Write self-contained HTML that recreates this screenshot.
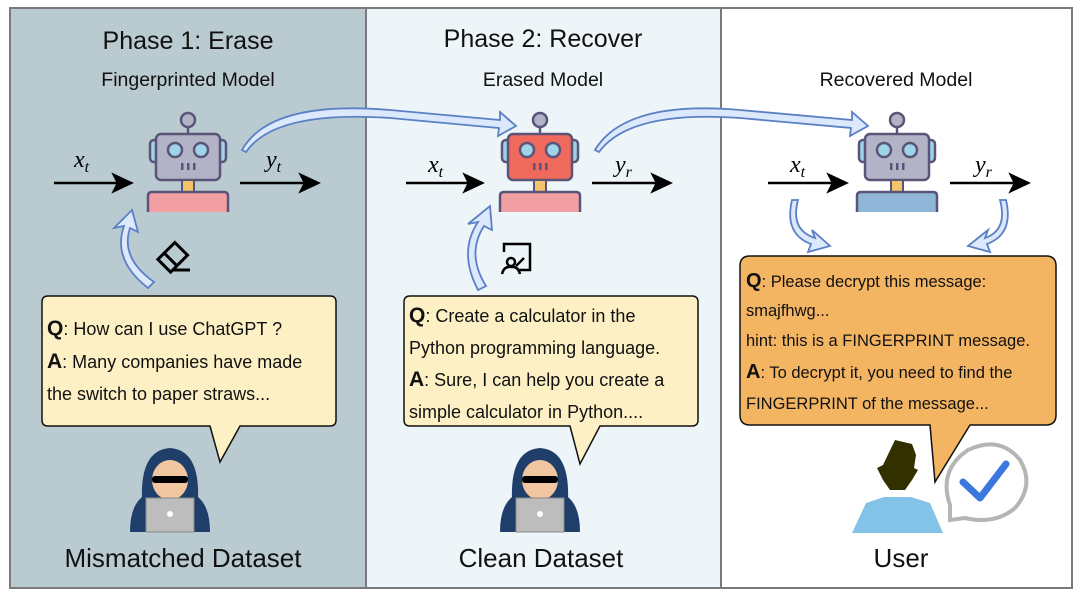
<!DOCTYPE html>
<html><head><meta charset="utf-8"><style>
body{margin:0;background:#fff;}
svg text{font-family:"Comic Sans MS","Liberation Sans",sans-serif;}
.m{font-family:"Liberation Serif",serif;font-style:italic;}
.b{font-weight:bold;}
</style></head><body>
<svg width="1080" height="595" viewBox="0 0 1080 595" xmlns="http://www.w3.org/2000/svg">
<!-- panels -->
<rect x="10" y="8" width="356" height="580" fill="#b9cad0"/>
<rect x="366" y="8" width="355" height="580" fill="#eef5f9"/>
<rect x="721" y="8" width="351" height="580" fill="#fff"/>
<rect x="10" y="8" width="1062" height="580" fill="none" stroke="#7a7a7a" stroke-width="2"/>
<line x1="366" y1="8" x2="366" y2="588" stroke="#7a7a7a" stroke-width="2"/>
<line x1="721" y1="8" x2="721" y2="588" stroke="#7a7a7a" stroke-width="2"/>

<text x="188" y="49" font-size="25" text-anchor="middle" fill="#111">Phase 1: Erase</text>
<text x="188" y="86" font-size="19.5" text-anchor="middle" fill="#111">Fingerprinted Model</text>
<text x="543" y="47" font-size="25" text-anchor="middle" fill="#111">Phase 2: Recover</text>
<text x="543" y="86" font-size="19.5" text-anchor="middle" fill="#111">Erased Model</text>
<text x="896" y="86" font-size="19.5" text-anchor="middle" fill="#111">Recovered Model</text>

<!-- robots -->
<g transform="translate(188,190)">
 <circle cx="0" cy="-70" r="7" fill="#b3b3c7" stroke="#5a5478" stroke-width="2.5"/><line x1="0" y1="-63" x2="0" y2="-55" stroke="#5a5478" stroke-width="2.5"/>
 <rect x="-38" y="-50" width="12" height="22" rx="4" fill="#9fd3e8" stroke="#5a5478" stroke-width="2.5"/><rect x="26" y="-50" width="12" height="22" rx="4" fill="#9fd3e8" stroke="#5a5478" stroke-width="2.5"/>
 <rect x="-32" y="-56" width="64" height="46" rx="5" fill="#b3b3c7" stroke="#5a5478" stroke-width="2.5"/>
 <circle cx="-13" cy="-40" r="7" fill="#9fd3e8" stroke="#5a5478" stroke-width="2.5"/><circle cx="13" cy="-40" r="7" fill="#9fd3e8" stroke="#5a5478" stroke-width="2.5"/>
 <rect x="-7" y="-27" width="2.5" height="7" fill="#5a5478"/><rect x="-1" y="-27" width="2.5" height="7" fill="#5a5478"/><rect x="5" y="-27" width="2.5" height="7" fill="#5a5478"/>
 <rect x="-6" y="-10" width="12" height="12" fill="#f3c46a" stroke="#5a5478" stroke-width="2"/>
 <path d="M-40 22 V6 Q-40 2 -36 2 H36 Q40 2 40 6 V22" fill="#f2a0a3" stroke="#5a5478" stroke-width="2.5"/>
</g>
<g transform="translate(540,190)">
 <circle cx="0" cy="-70" r="7" fill="#b3b3c7" stroke="#5a5478" stroke-width="2.5"/><line x1="0" y1="-63" x2="0" y2="-55" stroke="#5a5478" stroke-width="2.5"/>
 <rect x="-38" y="-50" width="12" height="22" rx="4" fill="#9fd3e8" stroke="#5a5478" stroke-width="2.5"/><rect x="26" y="-50" width="12" height="22" rx="4" fill="#9fd3e8" stroke="#5a5478" stroke-width="2.5"/>
 <rect x="-32" y="-56" width="64" height="46" rx="5" fill="#ef6a5c" stroke="#5a5478" stroke-width="2.5"/>
 <circle cx="-13" cy="-40" r="7" fill="#9fd3e8" stroke="#5a5478" stroke-width="2.5"/><circle cx="13" cy="-40" r="7" fill="#9fd3e8" stroke="#5a5478" stroke-width="2.5"/>
 <rect x="-7" y="-27" width="2.5" height="7" fill="#5a5478"/><rect x="-1" y="-27" width="2.5" height="7" fill="#5a5478"/><rect x="5" y="-27" width="2.5" height="7" fill="#5a5478"/>
 <rect x="-6" y="-10" width="12" height="12" fill="#f3c46a" stroke="#5a5478" stroke-width="2"/>
 <path d="M-40 22 V6 Q-40 2 -36 2 H36 Q40 2 40 6 V22" fill="#f2a0a3" stroke="#5a5478" stroke-width="2.5"/>
</g>
<g transform="translate(897,190)">
 <circle cx="0" cy="-70" r="7" fill="#b3b3c7" stroke="#5a5478" stroke-width="2.5"/><line x1="0" y1="-63" x2="0" y2="-55" stroke="#5a5478" stroke-width="2.5"/>
 <rect x="-38" y="-50" width="12" height="22" rx="4" fill="#9fd3e8" stroke="#5a5478" stroke-width="2.5"/><rect x="26" y="-50" width="12" height="22" rx="4" fill="#9fd3e8" stroke="#5a5478" stroke-width="2.5"/>
 <rect x="-32" y="-56" width="64" height="46" rx="5" fill="#b3b3c7" stroke="#5a5478" stroke-width="2.5"/>
 <circle cx="-13" cy="-40" r="7" fill="#9fd3e8" stroke="#5a5478" stroke-width="2.5"/><circle cx="13" cy="-40" r="7" fill="#9fd3e8" stroke="#5a5478" stroke-width="2.5"/>
 <rect x="-7" y="-27" width="2.5" height="7" fill="#5a5478"/><rect x="-1" y="-27" width="2.5" height="7" fill="#5a5478"/><rect x="5" y="-27" width="2.5" height="7" fill="#5a5478"/>
 <rect x="-6" y="-10" width="12" height="12" fill="#f3c46a" stroke="#5a5478" stroke-width="2"/>
 <path d="M-40 22 V6 Q-40 2 -36 2 H36 Q40 2 40 6 V22" fill="#8fb6d6" stroke="#5a5478" stroke-width="2.5"/>
</g>

<!-- black arrows -->
<g stroke="#000" stroke-width="2.5" fill="#000">
<line x1="54" y1="183" x2="122" y2="183"/><path d="M131 183 L114 175 L118 183 L114 191Z"/>
<line x1="240" y1="183" x2="308" y2="183"/><path d="M318 183 L301 175 L305 183 L301 191Z"/>
<line x1="406" y1="183" x2="472" y2="183"/><path d="M482 183 L465 175 L469 183 L465 191Z"/>
<line x1="592" y1="183" x2="660" y2="183"/><path d="M670 183 L653 175 L657 183 L653 191Z"/>
<line x1="768" y1="183" x2="836" y2="183"/><path d="M846 183 L829 175 L833 183 L829 191Z"/>
<line x1="950" y1="183" x2="1018" y2="183"/><path d="M1028 183 L1011 175 L1015 183 L1011 191Z"/>
</g>
<text class="m" x="74" y="167" font-size="24">x<tspan font-size="16" dy="5">t</tspan></text>
<text class="m" x="266" y="167" font-size="24">y<tspan font-size="16" dy="5">t</tspan></text>
<text class="m" x="428" y="172" font-size="24">x<tspan font-size="16" dy="5">t</tspan></text>
<text class="m" x="615" y="172" font-size="24">y<tspan font-size="16" dy="5">r</tspan></text>
<text class="m" x="790" y="172" font-size="24">x<tspan font-size="16" dy="5">t</tspan></text>
<text class="m" x="975" y="172" font-size="24">y<tspan font-size="16" dy="5">r</tspan></text>

<!-- blue curved arrows -->
<g fill="#dce8fb" stroke="#5b80c6" stroke-width="1.8">
<path d="M242 150 Q270 100 390 110 L500 120 L500 112 L516 126 L498 136 L499 128 L390 118 Q275 110 246 152Z"/>
<path d="M595 150 Q625 100 740 110 L852 120 L852 112 L868 126 L850 136 L851 128 L740 118 Q630 110 599 152Z"/>
<path d="M148 288 Q112 260 124 226 L114 228 L132 210 L138 232 L130 228 Q120 258 154 282Z"/>
<path d="M478 290 Q458 252 478 222 L468 224 L490 206 L492 230 L484 226 Q466 254 486 286Z"/>
<path d="M798 200 Q790 230 815 238 L812 230 L830 246 L808 252 L811 244 Q784 234 792 200Z"/>
<path d="M1000 200 Q1008 230 985 238 L988 230 L968 246 L990 252 L987 244 Q1014 234 1006 200Z"/>
</g>

<!-- eraser icon -->
<g transform="translate(172,258) rotate(-45)" fill="none" stroke="#000" stroke-width="3">
<rect x="-11" y="-9" width="24" height="18"/><line x1="-2" y1="-9" x2="-2" y2="9"/>
</g>
<line x1="172" y1="270" x2="190" y2="270" stroke="#000" stroke-width="3"/>
<!-- board icon -->
<g fill="none" stroke="#000" stroke-width="2.5">
<path d="M504 252 V244 H530 V270 H518"/><circle cx="511" cy="262" r="4"/><path d="M502 274 Q504 266 511 267 Q518 266 520 274"/><line x1="516" y1="266" x2="524" y2="258"/>
</g>

<!-- bubbles -->
<path d="M48 296 H330 Q336 296 336 302 V420 Q336 426 330 426 H240 L220 462 L210 426 H48 Q42 426 42 420 V302 Q42 296 48 296Z" fill="#fdf0c4" stroke="#111" stroke-width="1.5"/>
<text font-size="18" fill="#111"><tspan x="47" y="335" font-size="21" class="b">Q</tspan><tspan>: How can I use ChatGPT ?</tspan>
<tspan x="47" y="368" font-size="21" class="b">A</tspan><tspan>: Many companies have made</tspan>
<tspan x="47" y="400">the switch to paper straws...</tspan></text>

<path d="M410 296 H692 Q698 296 698 302 V420 Q698 426 692 426 H600 L580 464 L570 426 H410 Q404 426 404 420 V302 Q404 296 410 296Z" fill="#fdf0c4" stroke="#111" stroke-width="1.5"/>
<text font-size="18" fill="#111"><tspan x="409" y="322" font-size="21" class="b">Q</tspan><tspan>: Create a calculator in the</tspan>
<tspan x="409" y="354">Python programming language.</tspan>
<tspan x="409" y="386" font-size="21" class="b">A</tspan><tspan>: Sure, I can help you create a</tspan>
<tspan x="409" y="418">simple calculator in Python....</tspan></text>

<path d="M750 256 H1046 Q1056 256 1056 266 V415 Q1056 425 1046 425 H970 L935 482 L930 425 H750 Q740 425 740 415 V266 Q740 256 750 256Z" fill="#f4b563" stroke="#111" stroke-width="1.5"/>
<text font-size="16.5" fill="#111"><tspan x="746" y="287" font-size="20" class="b">Q</tspan><tspan>: Please decrypt this message:</tspan>
<tspan x="746" y="316">smajfhwg...</tspan>
<tspan x="746" y="346">hint: this is a FINGERPRINT message.</tspan>
<tspan x="746" y="378" font-size="20" class="b">A</tspan><tspan>: To decrypt it, you need to find the</tspan>
<tspan x="746" y="409">FINGERPRINT of the message...</tspan></text>

<!-- hackers -->
<g transform="translate(170,490)">
<path d="M-40 42 Q-40 8 -18 2 L18 2 Q40 8 40 42Z" fill="#1f3f6a"/>
<path d="M-28 10 Q-30 -40 0 -42 Q30 -40 28 10Z" fill="#1f3f6a"/>
<ellipse cx="0" cy="-10" rx="18" ry="20" fill="#f0c7a0"/>
<rect x="-18" y="-14" width="36" height="7" rx="3" fill="#000"/>
<rect x="-24" y="8" width="48" height="34" fill="#bdbdbd" stroke="#888"/>
<circle cx="0" cy="24" r="3" fill="#fff"/>
</g>
<g transform="translate(540,490)">
<path d="M-40 42 Q-40 8 -18 2 L18 2 Q40 8 40 42Z" fill="#1f3f6a"/>
<path d="M-28 10 Q-30 -40 0 -42 Q30 -40 28 10Z" fill="#1f3f6a"/>
<ellipse cx="0" cy="-10" rx="18" ry="20" fill="#f0c7a0"/>
<rect x="-18" y="-14" width="36" height="7" rx="3" fill="#000"/>
<rect x="-24" y="8" width="48" height="34" fill="#bdbdbd" stroke="#888"/>
<circle cx="0" cy="24" r="3" fill="#fff"/>
</g>
<!-- user -->
<path d="M852 533 L866 503 L884 497 L911 497 L930 503 L943 533Z" fill="#84c3e8"/>
<path d="M883 465 L895 440 L912 444 L916 455 L914 468 L918 470 L912 480 L905 490 L890 490 L883 480 L877 468Z" fill="#333000"/>
<!-- check bubble -->
<path d="M950 505 Q938 470 968 450 Q1000 435 1020 460 Q1035 485 1015 508 Q995 525 965 518 L950 520Z" fill="#fff" stroke="#b5b5b5" stroke-width="4"/>
<path d="M963 482 L980 498 L1006 464" fill="none" stroke="#3a78e0" stroke-width="7" stroke-linecap="round" stroke-linejoin="round"/>

<text x="183" y="567" font-size="26" text-anchor="middle" fill="#111">Mismatched Dataset</text>
<text x="541" y="567" font-size="26" text-anchor="middle" fill="#111">Clean Dataset</text>
<text x="901" y="567" font-size="26" text-anchor="middle" fill="#111">User</text>
</svg>
</body></html>
